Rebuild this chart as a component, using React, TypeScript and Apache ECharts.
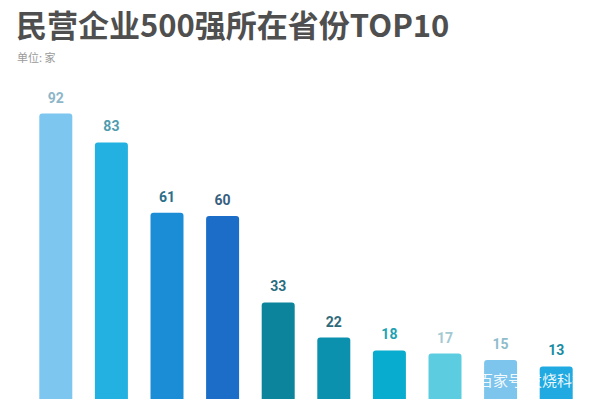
import React, { useEffect, useRef } from "react";
import * as echarts from "echarts";

const titleText = "民营企业500强所在省份TOP10";
const subtitleText = "单位: 家";
const categories = ["浙江", "江苏", "广东", "山东", "河北", "北京", "福建", "上海", "湖北", "重庆"];
const values = [92, 83, 61, 60, 33, 22, 18, 17, 15, 13];
const barColors = ["#7dc6ef", "#22b1e1", "#1a8dd6", "#1b6dc7", "#0b849c", "#0b90ae", "#08acce", "#5ccde0", "#7ec5ed", "#20aae1"];
const labelColors = ["#8db6c9", "#4f9cae", "#2b6f89", "#375f80", "#2a6d80", "#2e6a7a", "#1ea1b2", "#a3c9d2", "#8fbccb", "#1b8ba2"];
const watermarkA = "百家号";
const watermarkB = "发烧科技";

export default function App() {
  const ref = useRef<HTMLDivElement>(null);
  useEffect(() => {
    if (!ref.current) return;
    const chart = echarts.init(ref.current, null, { renderer: "svg" });
    const wmStyle = {
      fontFamily: "Noto Sans CJK SC",
      fontSize: 15,
      fill: "rgba(255,255,255,0.92)",
    };
    chart.setOption({
      animation: false,
      backgroundColor: "#ffffff",
      title: [
        {
          text: titleText,
          left: 11,
          top: 3,
          textStyle: {
            fontFamily: "Noto Sans CJK SC",
            fontSize: 31,
            fontWeight: "bold",
            color: "#4f4f4f",
          },
        },
        {
          text: subtitleText,
          left: 12,
          top: 46,
          textStyle: {
            fontFamily: "Noto Sans CJK SC",
            fontSize: 11,
            fontWeight: "normal",
            color: "#9a9a9a",
          },
        },
      ],
      grid: { left: 28, right: 16, top: 88, bottom: 12 },
      xAxis: {
        type: "category",
        data: categories,
        show: false,
      },
      yAxis: {
        type: "value",
        min: 0,
        max: 100,
        show: false,
        splitLine: { show: false },
      },
      series: [
        {
          type: "bar",
          barWidth: 33,
          data: values.map((v, i) => ({
            value: v,
            itemStyle: { color: barColors[i], borderRadius: [3, 3, 0, 0] },
            label: { color: labelColors[i] },
          })),
          label: {
            show: true,
            position: "top",
            distance: 9,
            fontFamily: "Roboto",
            fontWeight: "bold",
            fontSize: 14,
          },
        },
      ],
      graphic: [
        {
          type: "text",
          left: 478,
          top: 372,
          z: 100,
          style: { ...wmStyle, text: watermarkA },
        },
        {
          type: "text",
          left: 527,
          top: 372,
          z: 100,
          style: { ...wmStyle, text: watermarkB },
        },
      ],
    });
    return () => chart.dispose();
  }, []);
  return (
    <div style={{ position: "fixed", left: 0, top: 0, width: 600, height: 399, overflow: "hidden", background: "#fff" }}>
      <div ref={ref} style={{ width: 600, height: 420 }} />
    </div>
  );
}
